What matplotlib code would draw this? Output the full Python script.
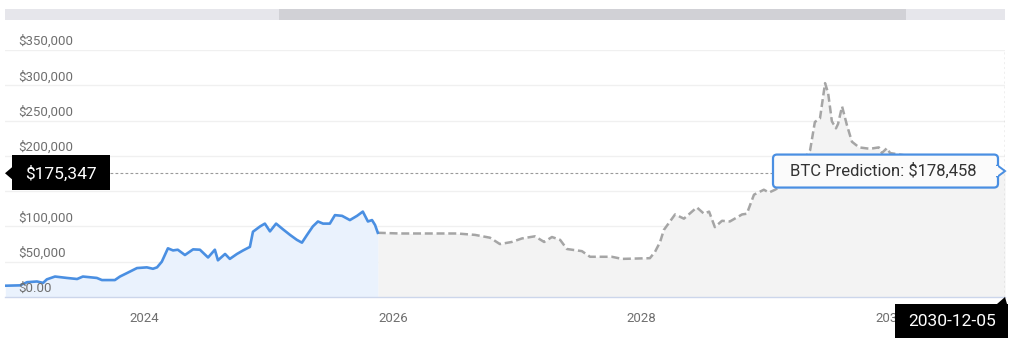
import pandas as pd
import matplotlib
matplotlib.use('Agg')
import matplotlib.pyplot as plt
import matplotlib.dates as mdates
from matplotlib.patches import Rectangle, Polygon, FancyBboxPatch

# Historical BTC price (USD)
hist_dates = ['2022-11-18', '2022-12-31', '2023-01-21', '2023-02-19', '2023-03-09', '2023-03-20',
              '2023-04-13', '2023-05-18', '2023-06-17', '2023-07-04', '2023-08-14', '2023-08-29',
              '2023-10-06', '2023-10-21', '2023-11-11', '2023-12-10', '2024-01-08', '2024-01-26',
              '2024-02-07', '2024-02-21', '2024-03-10', '2024-03-25', '2024-04-08', '2024-04-29',
              '2024-05-23', '2024-06-12', '2024-07-06', '2024-07-26', '2024-08-04', '2024-08-25',
              '2024-09-08', '2024-09-29', '2024-10-17', '2024-11-06', '2024-11-15', '2024-12-06',
              '2024-12-20', '2025-01-04', '2025-01-22', '2025-02-11', '2025-03-04', '2025-03-24',
              '2025-04-08', '2025-04-23', '2025-05-10', '2025-05-25', '2025-06-09', '2025-06-29',
              '2025-07-14', '2025-08-04', '2025-08-27', '2025-09-17', '2025-10-04', '2025-10-19',
              '2025-10-31', '2025-11-09', '2025-11-17']
hist_prices = [16000, 16500, 21000, 22000, 20000, 25000,
               29000, 27000, 25500, 29000, 27000, 24000,
               24000, 29000, 34000, 41000, 42000, 40000,
               42000, 50000, 69000, 66000, 67000, 59500,
               67500, 67000, 56000, 67000, 52000, 61000,
               54000, 61000, 66000, 71000, 92500, 100000,
               104000, 93000, 104000, 96000, 88000, 81000,
               77000, 88000, 100000, 107000, 104000, 104000,
               116000, 115000, 109000, 115000, 121000, 107000,
               109000, 102000, 91000]

# Forecast
pred_dates = ['2025-11-17', '2026-01-21', '2026-07-08', '2026-08-30', '2026-10-13', '2026-11-11',
              '2026-12-16', '2027-01-15', '2027-02-22', '2027-03-21', '2027-04-13', '2027-05-07',
              '2027-05-27', '2027-07-10', '2027-08-03', '2027-10-06', '2027-11-05', '2028-01-26',
              '2028-02-10', '2028-02-25', '2028-03-07', '2028-03-31', '2028-04-09', '2028-05-05',
              '2028-06-12', '2028-07-03', '2028-07-18', '2028-08-04', '2028-08-25', '2028-09-17',
              '2028-10-23', '2028-11-06', '2028-11-27', '2028-12-26', '2029-01-10', '2029-01-28',
              '2029-03-13', '2029-04-17', '2029-05-11', '2029-05-25', '2029-06-09', '2029-06-24',
              '2029-07-03', '2029-07-14', '2029-07-26', '2029-08-01', '2029-08-13', '2029-08-27',
              '2029-09-11', '2029-10-02', '2029-11-03', '2029-11-29', '2029-12-08', '2029-12-23',
              '2030-01-01', '2030-04-28', '2030-08-24', '2030-12-05']
pred_prices = [91000, 90000, 90000, 88000, 84000, 75000,
               78000, 83000, 86000, 78000, 85000, 81000,
               68000, 65000, 57000, 57000, 54000, 55000,
               64000, 78000, 95000, 111000, 117000, 111000,
               127000, 118000, 121000, 99000, 108000, 107000,
               117000, 118000, 145000, 152000, 148000, 152000,
               165000, 190000, 208000, 248000, 253000, 303000,
               289000, 249000, 239000, 245000, 270000, 244000,
               220000, 212000, 210000, 212000, 204000, 211000,
               204000, 195000, 185000, 178458]

current_price = 175347
prediction_price = 178458
start_date = '2022-11-17'
end_date = '2030-12-05'

y_ticks = [0, 50000, 100000, 150000, 200000, 250000, 300000, 350000]
y_labels = ['$0.00', '$50,000', '$100,000', '', '$200,000', '$250,000', '$300,000', '$350,000']
x_years = ['2024', '2026', '2028', '2030']

hist_x = pd.to_datetime(hist_dates)
pred_x = pd.to_datetime(pred_dates)
end_x = pd.Timestamp(end_date)

plt.rcParams['font.family'] = ['Roboto', 'DejaVu Sans']

W, H = 1024, 344
fig = plt.figure(figsize=(W / 100, H / 100), dpi=100)
ax = fig.add_axes([5 / W, 47 / H, 1000 / W, 247 / H])

# scrollbar at the top (display pixels, origin bottom-left)
fig.add_artist(Rectangle((5, H - 20), 1000, 11, transform=None,
                         facecolor='#e6e6eb', edgecolor='none'))
fig.add_artist(Rectangle((279, H - 20), 627, 11, transform=None,
                         facecolor='#d1d1d6', edgecolor='none'))

# series
ax.fill_between(pred_x, pred_prices, 0, color='#f3f3f3', lw=0, zorder=1)
ax.fill_between(hist_x, hist_prices, 0, color='#eaf2fd', lw=0, zorder=1)
ax.plot(pred_x, pred_prices, color='#a5a5a5', lw=1.8, dashes=(3.2, 1.5), zorder=3)
ax.plot(hist_x, hist_prices, color='#4a8fe2', lw=1.9, zorder=4)

ax.set_xlim(pd.Timestamp(start_date), end_x)
ax.set_ylim(0, 350000)

# grid and y labels
for v in y_ticks[1:]:
    ax.axhline(v, color='#f0f0f0', lw=1, zorder=0)
ax.set_yticks([])
for v, lab in zip(y_ticks, y_labels):
    ax.annotate(lab, xy=(0.013, v), xycoords=ax.get_yaxis_transform(),
                xytext=(0, 2), textcoords='offset pixels', ha='left', va='bottom',
                fontsize=9.5, color='#6f6f6f', zorder=6)

ax.set_xticks(pd.to_datetime([y + '-01-01' for y in x_years]))
ax.xaxis.set_major_formatter(mdates.DateFormatter('%Y'))
ax.tick_params(axis='x', length=0, pad=11, labelsize=9.5, labelcolor='#6f6f6f')

for s in ['top', 'left', 'right']:
    ax.spines[s].set_visible(False)
ax.spines['bottom'].set_color('#ccd6eb')
ax.spines['bottom'].set_linewidth(1)

# crosshairs
ax.axhline(current_price, xmin=0.1, color='#9a9a9a', lw=0.8, dashes=(2.5, 2), zorder=5)
ax.axvline(end_x, color='#b0b0b0', lw=1, dashes=(1.5, 2), zorder=5)

# pixel positions of the anchors
ex, ey = ax.transData.transform((mdates.date2num(end_x), prediction_price))
_, cy = ax.transData.transform((mdates.date2num(end_x), current_price))
ax_left, ax_bottom = ax.transAxes.transform((0, 0))

# current price label (left)
fig.add_artist(Rectangle((ax_left + 7, cy - 17), 98, 35, transform=None,
                         fc='black', ec='none', zorder=10))
fig.add_artist(Polygon([(ax_left + 7, cy + 6), (ax_left, cy), (ax_left + 7, cy - 6)],
                       closed=True, transform=None, fc='black', ec='none', zorder=10))
fig.text(ax_left + 56, cy, '$175,347', transform=None, ha='center', va='center',
         fontsize=12.5, color='white', zorder=11)

# prediction tooltip
tip_w, tip_h = 225, 33
tx0 = ex - 7 - tip_w
fig.add_artist(FancyBboxPatch((tx0, ey - tip_h / 2), tip_w, tip_h, transform=None,
                              boxstyle='round,pad=0,rounding_size=4',
                              fc='#fbfbfb', ec='#4a8fe2', lw=1.6, zorder=10))
fig.add_artist(Polygon([(ex - 8, ey + 6), (ex, ey), (ex - 8, ey - 6)], closed=True,
                       transform=None, fc='#fbfbfb', ec='#4a8fe2', lw=1.4, zorder=10))
fig.add_artist(Rectangle((ex - 10, ey - 5), 3, 10, transform=None,
                         fc='#fbfbfb', ec='none', zorder=10))
fig.text(tx0 + tip_w / 2 - 2, ey, 'BTC Prediction: $178,458', transform=None,
         ha='center', va='center', fontsize=12, color='#333333', zorder=11)

# date label (bottom)
fig.add_artist(Rectangle((ex - 110, ax_bottom - 41), 113, 34, transform=None,
                         fc='black', ec='none', zorder=10))
fig.add_artist(Polygon([(ex - 8, ax_bottom - 7), (ex, ax_bottom), (ex + 2, ax_bottom - 7)],
                       closed=True, transform=None, fc='black', ec='none', zorder=10))
fig.text(ex - 53, ax_bottom - 24, end_date, transform=None, ha='center', va='center',
         fontsize=12.5, color='white', zorder=11)

fig.savefig('out.png', dpi=100)
